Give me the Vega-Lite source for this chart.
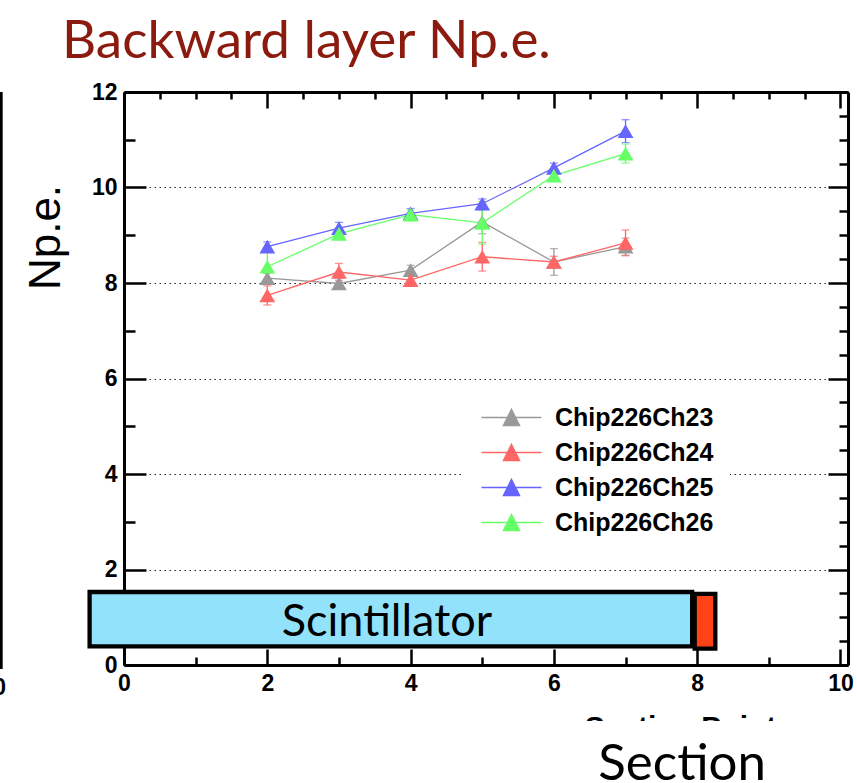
{
  "$schema": "https://vega.github.io/schema/vega-lite/v6.json",
  "width": 724,
  "height": 573,
  "autosize": {"type": "none"},
  "padding": {"left": 124, "top": 92, "right": 9, "bottom": 118},
  "background": "white",
  "title": {"text": "Backward layer Np.e.", "anchor": "start", "frame": "group", "dx": -62, "offset": -30, "fontSize": 53, "font": "Lato", "fontWeight": "normal", "color": "#8b1a0f", "baseline": "alphabetic"},
  "config": {"view": {"stroke": null}},
  "datasets": {
    "npe": [
      {"section": 2, "npe": 8.10, "err": 0.1, "chip": "Chip226Ch23"},
      {"section": 3, "npe": 7.99, "err": 0.1, "chip": "Chip226Ch23"},
      {"section": 4, "npe": 8.27, "err": 0.1, "chip": "Chip226Ch23"},
      {"section": 5, "npe": 9.28, "err": 0.25, "chip": "Chip226Ch23"},
      {"section": 6, "npe": 8.44, "err": 0.28, "chip": "Chip226Ch23"},
      {"section": 7, "npe": 8.76, "err": 0.18, "chip": "Chip226Ch23"},
      {"section": 2, "npe": 7.74, "err": 0.2, "chip": "Chip226Ch24"},
      {"section": 3, "npe": 8.23, "err": 0.18, "chip": "Chip226Ch24"},
      {"section": 4, "npe": 8.06, "err": 0.1, "chip": "Chip226Ch24"},
      {"section": 5, "npe": 8.55, "err": 0.3, "chip": "Chip226Ch24"},
      {"section": 6, "npe": 8.44, "err": 0.12, "chip": "Chip226Ch24"},
      {"section": 7, "npe": 8.84, "err": 0.27, "chip": "Chip226Ch24"},
      {"section": 2, "npe": 8.76, "err": 0.1, "chip": "Chip226Ch25"},
      {"section": 3, "npe": 9.15, "err": 0.12, "chip": "Chip226Ch25"},
      {"section": 4, "npe": 9.46, "err": 0.1, "chip": "Chip226Ch25"},
      {"section": 5, "npe": 9.66, "err": 0.1, "chip": "Chip226Ch25"},
      {"section": 6, "npe": 10.41, "err": 0.1, "chip": "Chip226Ch25"},
      {"section": 7, "npe": 11.18, "err": 0.24, "chip": "Chip226Ch25"},
      {"section": 2, "npe": 8.34, "err": 0.3, "chip": "Chip226Ch26"},
      {"section": 3, "npe": 9.03, "err": 0.12, "chip": "Chip226Ch26"},
      {"section": 4, "npe": 9.43, "err": 0.1, "chip": "Chip226Ch26"},
      {"section": 5, "npe": 9.26, "err": 0.45, "chip": "Chip226Ch26"},
      {"section": 6, "npe": 10.25, "err": 0.12, "chip": "Chip226Ch26"},
      {"section": 7, "npe": 10.71, "err": 0.2, "chip": "Chip226Ch26"}
    ]
  },
  "resolve": {"axis": {"x": "independent", "y": "independent"}},
  "layer": [
    {
      "data": {"values": [{"x": -1.712, "y": -0.084, "y2": 12.0}]},
      "mark": {"type": "rule", "color": "black", "strokeWidth": 2.7},
      "encoding": {
        "x": {"field": "x", "type": "quantitative", "axis": null},
        "y": {"field": "y", "type": "quantitative", "axis": null},
        "y2": {"field": "y2"}
      }
    },
    {
      "data": {"values": [{"t": "10", "x": -1.647, "y": -0.628}]},
      "mark": {"type": "text", "align": "right", "baseline": "alphabetic", "font": "Liberation Sans", "fontWeight": "bold", "fontSize": 23, "color": "black"},
      "encoding": {
        "x": {"field": "x", "type": "quantitative", "axis": null},
        "y": {"field": "y", "type": "quantitative", "axis": null},
        "text": {"field": "t"}
      }
    },
    {
      "data": {"values": [
        {"part": "Scintillator", "x": -0.48, "x2": 7.93, "y": 0.392, "y2": 1.529},
        {"part": "Fiber", "x": 7.965, "x2": 8.253, "y": 0.341, "y2": 1.491}
      ]},
      "mark": {"type": "rect", "stroke": "black", "strokeWidth": 4.3},
      "encoding": {
        "x": {"field": "x", "type": "quantitative", "axis": null},
        "x2": {"field": "x2"},
        "y": {"field": "y", "type": "quantitative", "axis": null},
        "y2": {"field": "y2"},
        "fill": {"field": "part", "type": "nominal", "scale": {"domain": ["Scintillator", "Fiber"], "range": ["#93e2fc", "#ff4116"]}, "legend": null}
      }
    },
    {
      "data": {"values": [{"t": "Scintillator", "x": 3.67, "y": 0.6}]},
      "mark": {"type": "text", "align": "center", "baseline": "alphabetic", "font": "Lato", "fontSize": 45, "color": "black"},
      "encoding": {
        "x": {"field": "x", "type": "quantitative", "axis": null},
        "y": {"field": "y", "type": "quantitative", "axis": null},
        "text": {"field": "t"}
      }
    },
    {
      "data": {"name": "npe"},
      "mark": {"type": "errorbar", "ticks": {"size": 8}, "thickness": 1.3},
      "encoding": {
        "x": {"field": "section", "type": "quantitative", "axis": null},
        "y": {"field": "npe", "type": "quantitative", "axis": null},
        "yError": {"field": "err"},
        "color": {"field": "chip", "type": "nominal"}
      }
    },
    {
      "data": {"name": "npe"},
      "mark": {"type": "line", "strokeWidth": 1.3},
      "encoding": {
        "x": {"field": "section", "type": "quantitative",
          "scale": {"domain": [0, 10.105], "nice": false, "zero": false},
          "axis": {"orient": "bottom", "values": [0,0.5,1,1.5,2,2.5,3,3.5,4,4.5,5,5.5,6,6.5,7,7.5,8,8.5,9,9.5,10],
            "format": "d",
            "labelExpr": "datum.value % 2 === 0 ? datum.label : ''",
            "tickSize": {"condition": {"test": "datum.value % 2 === 0", "value": -16}, "value": -8},
            "tickWidth": 2.5, "tickColor": "black", "domainColor": "black", "domainWidth": 3,
            "labelFont": "Liberation Sans", "labelFontWeight": "bold", "labelFontSize": 23, "labelColor": "black",
            "labelPadding": 23, "labelFlush": false, "labelOverlap": false, "grid": false,
            "title": "Section Point", "titleFont": "Liberation Sans", "titleFontWeight": "bold", "titleFontSize": 30, "titleColor": "black",
            "titleX": 556, "titleY": 47, "titleAlign": "center", "titleBaseline": "top"}},
        "y": {"field": "npe", "type": "quantitative",
          "scale": {"domain": [0, 12], "nice": false, "zero": false},
          "axis": {"orient": "left", "values": [0,0.5,1,1.5,2,2.5,3,3.5,4,4.5,5,5.5,6,6.5,7,7.5,8,8.5,9,9.5,10,10.5,11,11.5,12],
            "format": "d",
            "labelExpr": "datum.value % 2 === 0 ? datum.label : ''",
            "tickSize": {"condition": {"test": "datum.value % 2 === 0", "value": -22}, "value": -11},
            "tickWidth": 2.5, "tickColor": "black", "domainColor": "black", "domainWidth": 3,
            "labelFont": "Liberation Sans", "labelFontWeight": "bold", "labelFontSize": 23, "labelColor": "black",
            "labelPadding": 29, "labelFlush": false, "labelOverlap": false,
            "grid": true, "gridColor": "#222222", "gridWidth": 1, "gridDash": [1.5, 3.5],
            "gridOpacity": {"condition": {"test": "datum.value % 2 === 0 && datum.value > 0 && datum.value < 12", "value": 1}, "value": 0},
            "title": "Np.e.", "titleFont": "Liberation Sans", "titleFontWeight": "normal", "titleFontSize": 44, "titleColor": "black",
            "titleAngle": -90, "titleX": -64.5, "titleY": 145, "titleAlign": "center", "titleBaseline": "alphabetic"}},
        "color": {"field": "chip", "type": "nominal",
          "scale": {"domain": ["Chip226Ch23", "Chip226Ch24", "Chip226Ch25", "Chip226Ch26"], "range": ["#999999", "#ff6666", "#6666ff", "#66ff66"]},
          "legend": {"orient": "none", "legendX": 339, "legendY": 297, "title": null,
            "symbolType": "M-1,0H5M2,-0.8L2.8,0.8H1.2Z", "symbolSize": 400, "symbolStrokeWidth": 1.5,
            "labelFont": "Liberation Sans", "labelFontWeight": "bold", "labelFontSize": 25, "labelColor": "black",
            "labelOffset": 51, "fillColor": "white", "padding": 16, "rowPadding": 9,
            "encode": {"symbols": {"update": {"fill": {"scale": "color", "field": "value"}, "stroke": {"scale": "color", "field": "value"}, "opacity": {"value": 1}}}}}}
      }
    },
    {
      "data": {"name": "npe"},
      "mark": {"type": "point", "shape": "triangle-up", "filled": true, "size": 250, "opacity": 1},
      "encoding": {
        "x": {"field": "section", "type": "quantitative",
          "axis": {"orient": "top", "values": [0,0.5,1,1.5,2,2.5,3,3.5,4,4.5,5,5.5,6,6.5,7,7.5,8,8.5,9,9.5,10],
            "labels": false, "title": null, "grid": false,
            "tickSize": {"condition": {"test": "datum.value % 2 === 0", "value": -16}, "value": -7},
            "tickWidth": 2.5, "tickColor": "black", "domainColor": "black", "domainWidth": 3}},
        "y": {"field": "npe", "type": "quantitative",
          "axis": {"orient": "right", "values": [0,0.5,1,1.5,2,2.5,3,3.5,4,4.5,5,5.5,6,6.5,7,7.5,8,8.5,9,9.5,10,10.5,11,11.5,12],
            "labels": false, "title": null, "grid": false,
            "tickSize": {"condition": {"test": "datum.value % 2 === 0", "value": -20}, "value": -9},
            "tickWidth": 2.5, "tickColor": "black", "domainColor": "black", "domainWidth": 3}},
        "color": {"field": "chip", "type": "nominal"}
      }
    },
    {
      "data": {"values": [{"x": 6.43, "x2": 10.3, "y": -1.173, "y2": -2.7}]},
      "mark": {"type": "rect", "fill": "white"},
      "encoding": {
        "x": {"field": "x", "type": "quantitative", "axis": null},
        "x2": {"field": "x2"},
        "y": {"field": "y", "type": "quantitative", "axis": null},
        "y2": {"field": "y2"}
      }
    },
    {
      "data": {"values": [{"t": "Section", "x": 7.79, "y": -2.41}]},
      "mark": {"type": "text", "align": "center", "baseline": "alphabetic", "font": "Lato", "fontSize": 51, "color": "black"},
      "encoding": {
        "x": {"field": "x", "type": "quantitative", "axis": null},
        "y": {"field": "y", "type": "quantitative", "axis": null},
        "text": {"field": "t"}
      }
    }
  ]
}
